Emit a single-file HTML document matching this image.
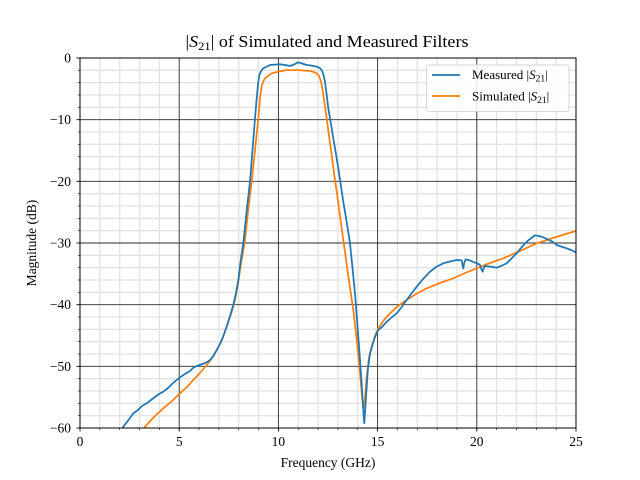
<!DOCTYPE html>
<html><head><meta charset="utf-8"><style>
html,body{margin:0;padding:0;background:#fff;}
svg{display:block;}
text{font-family:"Liberation Serif","DejaVu Serif",serif;fill:#000;}
</style></head><body>
<svg width="640" height="480" viewBox="0 0 640 480" xmlns="http://www.w3.org/2000/svg">
<rect width="640" height="480" fill="#fff"/>
<!-- minor grid -->
<g stroke="#e3e3e3" stroke-width="1.3">
<line x1="99.84" y1="58" x2="99.84" y2="428"/><line x1="119.68" y1="58" x2="119.68" y2="428"/><line x1="139.52" y1="58" x2="139.52" y2="428"/><line x1="159.36" y1="58" x2="159.36" y2="428"/>
<line x1="199.04" y1="58" x2="199.04" y2="428"/><line x1="218.88" y1="58" x2="218.88" y2="428"/><line x1="238.72" y1="58" x2="238.72" y2="428"/><line x1="258.56" y1="58" x2="258.56" y2="428"/>
<line x1="298.24" y1="58" x2="298.24" y2="428"/><line x1="318.08" y1="58" x2="318.08" y2="428"/><line x1="337.92" y1="58" x2="337.92" y2="428"/><line x1="357.76" y1="58" x2="357.76" y2="428"/>
<line x1="397.44" y1="58" x2="397.44" y2="428"/><line x1="417.28" y1="58" x2="417.28" y2="428"/><line x1="437.12" y1="58" x2="437.12" y2="428"/><line x1="456.96" y1="58" x2="456.96" y2="428"/>
<line x1="496.64" y1="58" x2="496.64" y2="428"/><line x1="516.48" y1="58" x2="516.48" y2="428"/><line x1="536.32" y1="58" x2="536.32" y2="428"/><line x1="556.16" y1="58" x2="556.16" y2="428"/>
<line x1="80" y1="70.33" x2="576" y2="70.33"/><line x1="80" y1="82.67" x2="576" y2="82.67"/><line x1="80" y1="95" x2="576" y2="95"/><line x1="80" y1="107.33" x2="576" y2="107.33"/>
<line x1="80" y1="132" x2="576" y2="132"/><line x1="80" y1="144.33" x2="576" y2="144.33"/><line x1="80" y1="156.67" x2="576" y2="156.67"/><line x1="80" y1="169" x2="576" y2="169"/>
<line x1="80" y1="193.67" x2="576" y2="193.67"/><line x1="80" y1="206" x2="576" y2="206"/><line x1="80" y1="218.33" x2="576" y2="218.33"/><line x1="80" y1="230.67" x2="576" y2="230.67"/>
<line x1="80" y1="255.33" x2="576" y2="255.33"/><line x1="80" y1="267.67" x2="576" y2="267.67"/><line x1="80" y1="280" x2="576" y2="280"/><line x1="80" y1="292.33" x2="576" y2="292.33"/>
<line x1="80" y1="317" x2="576" y2="317"/><line x1="80" y1="329.33" x2="576" y2="329.33"/><line x1="80" y1="341.67" x2="576" y2="341.67"/><line x1="80" y1="354" x2="576" y2="354"/>
<line x1="80" y1="378.67" x2="576" y2="378.67"/><line x1="80" y1="391" x2="576" y2="391"/><line x1="80" y1="403.33" x2="576" y2="403.33"/><line x1="80" y1="415.67" x2="576" y2="415.67"/>
</g>
<!-- major grid -->
<g stroke="#2a2a2a" stroke-width="0.9">
<line x1="179.2" y1="58" x2="179.2" y2="428"/><line x1="278.4" y1="58" x2="278.4" y2="428"/><line x1="377.6" y1="58" x2="377.6" y2="428"/><line x1="476.8" y1="58" x2="476.8" y2="428"/>
<line x1="80" y1="119.67" x2="576" y2="119.67"/><line x1="80" y1="181.33" x2="576" y2="181.33"/><line x1="80" y1="243" x2="576" y2="243"/><line x1="80" y1="304.67" x2="576" y2="304.67"/><line x1="80" y1="366.33" x2="576" y2="366.33"/>
</g>
<defs><clipPath id="c"><rect x="80" y="58" width="496" height="370"/></clipPath></defs>
<g clip-path="url(#c)" fill="none" stroke-width="1.75" stroke-linejoin="round" stroke-linecap="butt">
<!-- simulated (orange) -->
<polyline stroke="#ff7f0e" points="144,430 145,426.7 154,417 163.3,408.3 172,401 180,393.3 187,387 193.3,380 200,373 206.7,365 212,358 216.7,350 222,340 226.7,326.7 231,314 235,300 238,284 240,270 243,252 245,240 248,212 251.7,181.7 255,150 258.3,118.3 260,98 261.7,86 263.5,81 265,78.3 268,76 271.7,73.3 275,72.5 278.3,71.7 282,71 286.7,70 291,70.3 296.7,70 303,70.5 310,71 314,72 316.7,73.3 319,76 320.5,80 322,86 323.3,95 325,106 326.7,118.3 329,136 331.7,155 334,173 336.7,191.7 340,216 343.3,240 348,274 353.3,310 357,342 360,373.3 362,396 363.3,408.3 365,398 366.7,376.7 369,358 371.7,346.7 375,336 378.3,328.3 384,320 390,313.3 398,306 406.7,300 416,294 426.7,288.3 440,283 453.3,278.3 465,273 476.7,268.3 490,263 503.3,258.3 520,251 536.7,243.3 556,237 576.7,230.7"/>
<!-- measured (blue) -->
<polyline stroke="#1f77b4" points="122,430 123.3,426.7 127,422 130,418 133.3,413.3 138,410 142,406 146.7,403.3 151,400 155,397 159,394 163.3,391.7 168,388 172,384 176,380.5 180,377.3 185,374 190,371 193,368 196.7,366 201,364.5 205,363 208,361.5 210,360 213,356.5 216.7,350 220,344 223,337 226.7,326.7 230,316 233.3,305 236,293 238.3,280 240,266 241.5,255 243.3,243.3 246.5,212 250,181.7 252.5,150 255,118.3 257,95 258.3,81.7 259.2,76 260,73.3 261.5,70.5 263.3,68.3 266,67 270,65 275,64.6 280,64.3 285,65 290,66 294,64.5 298.3,62.3 302,63.5 306.7,65 311,65.5 316.7,66.7 319.5,67.8 321.7,70 323.5,75 325,81.7 326.6,94 328.3,108.3 330.8,123 333.3,138.3 335.8,153 338.3,168.3 340.8,185 343.3,201.7 346.7,222 350,243.3 352.5,268 355,293.3 357,320 359.3,350 361,374 362.7,400 363.6,415 364.3,423.3 365.2,410 366.7,386.7 368,368 370,353.3 373,343 375,337 378.3,330 382,327 386.7,321.7 391,318 396.7,313.3 401,308 406.7,300 411,294 416.7,286.7 423,279 430,271.7 436,267 443.3,263.3 450,261.5 456.7,260 461,260.2 461.7,260.7 462.5,265 463.3,268.3 464.2,263 465.7,259.3 470,260.5 476.7,263.3 478.5,264 480,265 481.3,269 482.7,271.7 483.8,268 485,266 489,266.5 493,267 496.7,267.7 501,266 506.7,263.3 512,258 516.7,253.3 521,248 526.7,241.7 530,239 535,235.3 539,236 543.3,237.3 549,240 553,242 556.7,245 561,246.5 566.7,248.3 571,250 576.7,252.7"/>
</g>
<!-- axes frame -->
<rect x="80" y="58" width="496" height="370" fill="none" stroke="#000" stroke-width="1"/>
<!-- ticks -->
<g stroke="#000" stroke-width="0.9">
<line x1="80" y1="428" x2="80" y2="431.5"/><line x1="179.2" y1="428" x2="179.2" y2="431.5"/><line x1="278.4" y1="428" x2="278.4" y2="431.5"/><line x1="377.6" y1="428" x2="377.6" y2="431.5"/><line x1="476.8" y1="428" x2="476.8" y2="431.5"/><line x1="576" y1="428" x2="576" y2="431.5"/>
<line x1="80" y1="58" x2="76.5" y2="58"/><line x1="80" y1="119.67" x2="76.5" y2="119.67"/><line x1="80" y1="181.33" x2="76.5" y2="181.33"/><line x1="80" y1="243" x2="76.5" y2="243"/><line x1="80" y1="304.67" x2="76.5" y2="304.67"/><line x1="80" y1="366.33" x2="76.5" y2="366.33"/><line x1="80" y1="428" x2="76.5" y2="428"/>
</g>
<g stroke="#000" stroke-width="0.6">
<line x1="99.84" y1="428" x2="99.84" y2="430"/><line x1="119.68" y1="428" x2="119.68" y2="430"/><line x1="139.52" y1="428" x2="139.52" y2="430"/><line x1="159.36" y1="428" x2="159.36" y2="430"/>
<line x1="199.04" y1="428" x2="199.04" y2="430"/><line x1="218.88" y1="428" x2="218.88" y2="430"/><line x1="238.72" y1="428" x2="238.72" y2="430"/><line x1="258.56" y1="428" x2="258.56" y2="430"/>
<line x1="298.24" y1="428" x2="298.24" y2="430"/><line x1="318.08" y1="428" x2="318.08" y2="430"/><line x1="337.92" y1="428" x2="337.92" y2="430"/><line x1="357.76" y1="428" x2="357.76" y2="430"/>
<line x1="397.44" y1="428" x2="397.44" y2="430"/><line x1="417.28" y1="428" x2="417.28" y2="430"/><line x1="437.12" y1="428" x2="437.12" y2="430"/><line x1="456.96" y1="428" x2="456.96" y2="430"/>
<line x1="496.64" y1="428" x2="496.64" y2="430"/><line x1="516.48" y1="428" x2="516.48" y2="430"/><line x1="536.32" y1="428" x2="536.32" y2="430"/><line x1="556.16" y1="428" x2="556.16" y2="430"/>
<line x1="80" y1="70.33" x2="78" y2="70.33"/><line x1="80" y1="82.67" x2="78" y2="82.67"/><line x1="80" y1="95" x2="78" y2="95"/><line x1="80" y1="107.33" x2="78" y2="107.33"/>
<line x1="80" y1="132" x2="78" y2="132"/><line x1="80" y1="144.33" x2="78" y2="144.33"/><line x1="80" y1="156.67" x2="78" y2="156.67"/><line x1="80" y1="169" x2="78" y2="169"/>
<line x1="80" y1="193.67" x2="78" y2="193.67"/><line x1="80" y1="206" x2="78" y2="206"/><line x1="80" y1="218.33" x2="78" y2="218.33"/><line x1="80" y1="230.67" x2="78" y2="230.67"/>
<line x1="80" y1="255.33" x2="78" y2="255.33"/><line x1="80" y1="267.67" x2="78" y2="267.67"/><line x1="80" y1="280" x2="78" y2="280"/><line x1="80" y1="292.33" x2="78" y2="292.33"/>
<line x1="80" y1="317" x2="78" y2="317"/><line x1="80" y1="329.33" x2="78" y2="329.33"/><line x1="80" y1="341.67" x2="78" y2="341.67"/><line x1="80" y1="354" x2="78" y2="354"/>
<line x1="80" y1="378.67" x2="78" y2="378.67"/><line x1="80" y1="391" x2="78" y2="391"/><line x1="80" y1="403.33" x2="78" y2="403.33"/><line x1="80" y1="415.67" x2="78" y2="415.67"/>
</g>
<!-- x tick labels -->
<g font-size="13.5" text-anchor="middle">
<text x="80" y="446">0</text><text x="179.2" y="446">5</text><text x="278.4" y="446">10</text><text x="377.6" y="446">15</text><text x="476.8" y="446">20</text><text x="576" y="446">25</text>
</g>
<!-- y tick labels -->
<g font-size="13.5" text-anchor="end">
<text x="71" y="62.5">0</text>
<text x="71" y="124">−10</text>
<text x="71" y="186">−20</text>
<text x="71" y="247.5">−30</text>
<text x="71" y="309">−40</text>
<text x="71" y="371">−50</text>
<text x="71" y="432.5">−60</text>
</g>
<text x="328" y="467" font-size="13.5" text-anchor="middle">Frequency (GHz)</text>
<text x="0" y="0" font-size="13.5" text-anchor="middle" transform="translate(36,243) rotate(-90)">Magnitude (dB)</text>
<text x="327" y="47" font-size="16.5" text-anchor="middle" textLength="283" lengthAdjust="spacingAndGlyphs">|<tspan font-style="italic">S</tspan><tspan font-size="11.5" dy="3">21</tspan><tspan dy="-3">|</tspan> of Simulated and Measured Filters</text>
<!-- legend -->
<rect x="426.5" y="65" width="142.5" height="46.5" rx="2.5" fill="#fff" fill-opacity="0.85" stroke="#d6d6d6" stroke-width="1"/>
<line x1="432" y1="75" x2="460" y2="75" stroke="#1f77b4" stroke-width="1.75"/>
<line x1="432" y1="96" x2="460" y2="96" stroke="#ff7f0e" stroke-width="1.75"/>
<text x="472" y="79" font-size="13">Measured |<tspan font-style="italic">S</tspan><tspan font-size="9.5" dy="2.5">21</tspan><tspan dy="-2.5">|</tspan></text>
<text x="472" y="100.5" font-size="13">Simulated |<tspan font-style="italic">S</tspan><tspan font-size="9.5" dy="2.5">21</tspan><tspan dy="-2.5">|</tspan></text>
</svg>
</body></html>
